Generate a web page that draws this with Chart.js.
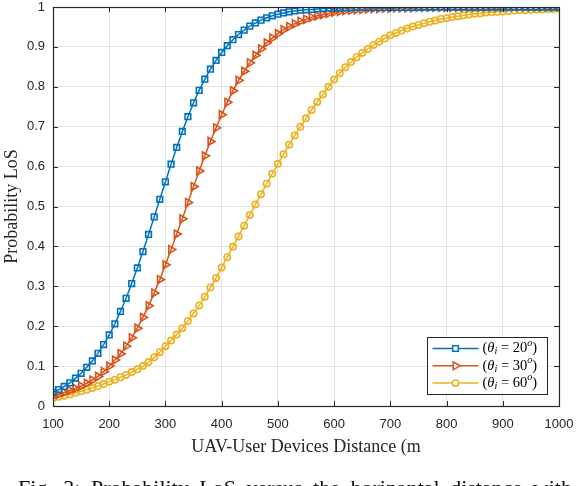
<!DOCTYPE html>
<html>
<head>
<meta charset="utf-8">
<script src="https://cdn.jsdelivr.net/npm/chart.js"></script>
<style>
  html, body { margin: 0; padding: 0; background: #fff; overflow: hidden; }
  #wrap { position: relative; width: 576px; height: 486px; overflow: hidden; }
  #caption {
    position: absolute; left: 18px; top: 475px; white-space: nowrap;
    font-family: "Liberation Serif", serif; font-size: 22px; color: #111;
    word-spacing: 5px;
  }
</style>
</head>
<body>
<div id="wrap">
  <canvas id="plos"></canvas>
  <div id="caption">Fig. 3: Probability LoS versus the horizontal distance with</div>
</div>
<script>
const distance = [
  100, 110, 120, 130, 140, 150, 160, 170, 180, 190,
  200, 210, 220, 230, 240, 250, 260, 270, 280, 290,
  300, 310, 320, 330, 340, 350, 360, 370, 380, 390,
  400, 410, 420, 430, 440, 450, 460, 470, 480, 490,
  500, 510, 520, 530, 540, 550, 560, 570, 580, 590,
  600, 610, 620, 630, 640, 650, 660, 670, 680, 690,
  700, 710, 720, 730, 740, 750, 760, 770, 780, 790,
  800, 810, 820, 830, 840, 850, 860, 870, 880, 890,
  900, 910, 920, 930, 940, 950, 960, 970, 980, 990,
  1000,
];

// theta_i = 20 deg
const plos20 = [
  0.034, 0.041, 0.049, 0.058, 0.070, 0.082, 0.097, 0.113, 0.132, 0.154,
  0.178, 0.206, 0.237, 0.270, 0.307, 0.346, 0.387, 0.430, 0.474, 0.518,
  0.562, 0.606, 0.648, 0.688, 0.725, 0.760, 0.791, 0.819, 0.844, 0.866,
  0.886, 0.903, 0.918, 0.931, 0.942, 0.952, 0.960, 0.967, 0.973, 0.978,
  0.982, 0.985, 0.988, 0.990, 0.992, 0.993, 0.994, 0.995, 0.996, 0.997,
  0.997, 0.998, 0.998, 0.998, 0.999, 0.999, 0.999, 0.999, 0.999, 0.999,
  0.999, 0.999, 0.999, 0.999, 0.999, 0.999, 1.000, 1.000, 1.000, 1.000,
  1.000, 1.000, 1.000, 1.000, 1.000, 1.000, 1.000, 1.000, 1.000, 1.000,
  1.000, 1.000, 1.000, 1.000, 1.000, 1.000, 1.000, 1.000, 1.000, 1.000,
  1.000,
];

// theta_i = 30 deg
const plos30 = [
  0.025, 0.029, 0.034, 0.039, 0.044, 0.050, 0.057, 0.065, 0.074, 0.086,
  0.100, 0.115, 0.131, 0.150, 0.171, 0.195, 0.222, 0.251, 0.283, 0.317,
  0.354, 0.392, 0.431, 0.469, 0.510, 0.550, 0.589, 0.627, 0.663, 0.697,
  0.730, 0.761, 0.790, 0.816, 0.839, 0.860, 0.879, 0.895, 0.910, 0.922,
  0.933, 0.943, 0.951, 0.958, 0.964, 0.969, 0.974, 0.978, 0.981, 0.984,
  0.987, 0.989, 0.991, 0.992, 0.993, 0.994, 0.995, 0.996, 0.996, 0.997,
  0.997, 0.998, 0.998, 0.998, 0.998, 0.999, 0.999, 0.999, 0.999, 0.999,
  0.999, 0.999, 0.999, 0.999, 0.999, 0.999, 0.999, 0.999, 0.999, 0.999,
  0.999, 1.000, 1.000, 1.000, 1.000, 1.000, 1.000, 1.000, 1.000, 1.000,
  1.000,
];

// theta_i = 60 deg
const plos60 = [
  0.020, 0.023, 0.026, 0.029, 0.033, 0.037, 0.041, 0.045, 0.050, 0.055,
  0.061, 0.066, 0.072, 0.078, 0.085, 0.092, 0.100, 0.110, 0.122, 0.135,
  0.150, 0.164, 0.179, 0.195, 0.213, 0.232, 0.252, 0.274, 0.297, 0.321,
  0.347, 0.373, 0.399, 0.425, 0.452, 0.479, 0.505, 0.531, 0.557, 0.582,
  0.607, 0.631, 0.655, 0.678, 0.700, 0.721, 0.742, 0.762, 0.781, 0.800,
  0.818, 0.834, 0.849, 0.862, 0.874, 0.885, 0.895, 0.905, 0.913, 0.921,
  0.929, 0.935, 0.941, 0.946, 0.951, 0.955, 0.959, 0.963, 0.966, 0.970,
  0.972, 0.975, 0.977, 0.979, 0.981, 0.983, 0.984, 0.986, 0.987, 0.988,
  0.989, 0.990, 0.991, 0.992, 0.992, 0.993, 0.994, 0.994, 0.995, 0.995,
  0.996,
];

const xTicks = [100, 200, 300, 400, 500, 600, 700, 800, 900, 1000];
const yTicks = [0, 0.1, 0.2, 0.3, 0.4, 0.5, 0.6, 0.7, 0.8, 0.9, 1];
const seriesAngles = ["20", "30", "60"];

const colors = ["#0072BD", "#D95319", "#EDB120"];
const markers = [
  { pointStyle: "rect", radius: 4, rotation: 0 },
  { pointStyle: "triangle", radius: 4.6, rotation: 90 },
  { pointStyle: "circle", radius: 3.2, rotation: 0 },
];

const axisColor = "#262626";
const serif = '"Liberation Serif", "DejaVu Serif", serif';
const sans = '"Liberation Sans", Arial, sans-serif';

function toPoints(values) {
  return values.map((v, i) => ({ x: distance[i], y: v }));
}

const allSeries = [plos20, plos30, plos60];

const datasets = allSeries.map((vals, i) => ({
  label: "theta " + seriesAngles[i],
  data: toPoints(vals),
  borderColor: colors[i],
  borderWidth: 1.5,
  pointStyle: markers[i].pointStyle,
  pointRadius: markers[i].radius,
  pointRotation: markers[i].rotation,
  pointBorderColor: colors[i],
  pointBackgroundColor: "rgba(0,0,0,0)",
  pointBorderWidth: 1.6,
  tension: 0,
}));

// draws a run of text pieces, some italic / sub / superscript
function drawMath(ctx, x, y, parts, size) {
  let cx = x;
  parts.forEach((p) => {
    const s = p.small ? size * 0.7 : size;
    ctx.font = (p.italic ? "italic " : "") + s + "px " + serif;
    let dy = 0;
    if (p.sub) dy = size * 0.22;
    if (p.sup) dy = -size * 0.38;
    ctx.fillText(p.t, cx, y + dy);
    cx += ctx.measureText(p.t).width;
  });
}

const matlabBox = {
  id: "matlabBox",
  afterDatasetsDraw(chart) {
    const { ctx, chartArea: a, scales } = chart;
    ctx.save();
    ctx.strokeStyle = axisColor;
    ctx.lineWidth = 1;
    // inward ticks on all four sides
    const tl = 5;
    ctx.beginPath();
    xTicks.forEach((t) => {
      const px = Math.round(scales.x.getPixelForValue(t)) + 0.5;
      ctx.moveTo(px, a.bottom);
      ctx.lineTo(px, a.bottom - tl);
      ctx.moveTo(px, a.top);
      ctx.lineTo(px, a.top + tl);
    });
    yTicks.forEach((t) => {
      const py = Math.round(scales.y.getPixelForValue(t)) + 0.5;
      ctx.moveTo(a.left, py);
      ctx.lineTo(a.left + tl, py);
      ctx.moveTo(a.right, py);
      ctx.lineTo(a.right - tl, py);
    });
    ctx.stroke();
    ctx.lineWidth = 1.2;
    ctx.strokeRect(Math.round(a.left) + 0.5, Math.round(a.top) + 0.5,
      Math.round(a.right - a.left), Math.round(a.bottom - a.top));

    // legend, bottom right inside the axes
    const w = 120, h = 57;
    const lx = Math.round(a.right - 12 - w) + 0.5;
    const ly = Math.round(a.bottom - 12 - h) + 0.5;
    ctx.fillStyle = "#fff";
    ctx.fillRect(lx, ly, w, h);
    ctx.lineWidth = 1;
    ctx.strokeStyle = axisColor;
    ctx.strokeRect(lx, ly, w, h);
    ctx.textBaseline = "middle";
    ctx.textAlign = "left";
    seriesAngles.forEach((ang, i) => {
      const yy = ly + 11 + i * 17.3;
      ctx.strokeStyle = colors[i];
      ctx.lineWidth = 1.5;
      ctx.beginPath();
      ctx.moveTo(lx + 5, yy);
      ctx.lineTo(lx + 51, yy);
      ctx.stroke();
      ctx.lineWidth = 1.5;
      ctx.fillStyle = "#fff";
      Chart.helpers.drawPoint(ctx, {
        pointStyle: markers[i].pointStyle,
        radius: markers[i].radius,
        rotation: markers[i].rotation,
        borderWidth: 1.5,
      }, lx + 28, yy);
      ctx.fillStyle = "#000";
      drawMath(ctx, lx + 55, yy, [
        { t: "(" },
        { t: "\u03B8", italic: true },
        { t: "i", italic: true, small: true, sub: true },
        { t: " = " + ang },
        { t: "o", italic: true, small: true, sup: true },
        { t: ")" },
      ], 14.5);
    });
    ctx.restore();
  },
};

new Chart(document.getElementById("plos"), {
  type: "line",
  data: { datasets: datasets },
  options: {
    responsive: true,
    maintainAspectRatio: false,
    animation: false,
    layout: { padding: { left: 0, right: 17, top: 7, bottom: 0 } },
    plugins: {
      legend: { display: false },
      tooltip: { enabled: false },
    },
    scales: {
      x: {
        type: "linear",
        min: 100,
        max: 1000,
        afterBuildTicks: (scale) => {
          scale.ticks = xTicks.map((v) => ({ value: v }));
        },
        afterFit: (scale) => {
          scale.height = 80;
          scale.paddingLeft = 0;
          scale.paddingRight = 0;
        },
        grid: { color: "#e2e2e2", lineWidth: 1, drawTicks: false },
        border: { display: false },
        ticks: {
          padding: 11,
          color: axisColor,
          font: { family: sans, size: 13 },
          maxRotation: 0,
          callback: (v) => String(v),
        },
        title: {
          display: true,
          text: "UAV-User Devices Distance (m",
          color: axisColor,
          font: { family: serif, size: 18 },
          padding: { top: 0, bottom: 28 },
        },
      },
      y: {
        type: "linear",
        min: 0,
        max: 1,
        afterBuildTicks: (scale) => {
          scale.ticks = yTicks.map((v) => ({ value: v }));
        },
        afterFit: (scale) => {
          scale.width = 53;
          scale.paddingTop = 0;
          scale.paddingBottom = 0;
        },
        grid: { color: "#e2e2e2", lineWidth: 1, drawTicks: false },
        border: { display: false },
        ticks: {
          padding: 8,
          color: axisColor,
          font: { family: sans, size: 13 },
          callback: (v) => String(v),
        },
        title: {
          display: true,
          text: "Probability LoS",
          color: axisColor,
          font: { family: serif, size: 18 },
          padding: { top: 1, bottom: 0 },
        },
      },
    },
  },
  plugins: [matlabBox],
});
</script>
</body>
</html>
